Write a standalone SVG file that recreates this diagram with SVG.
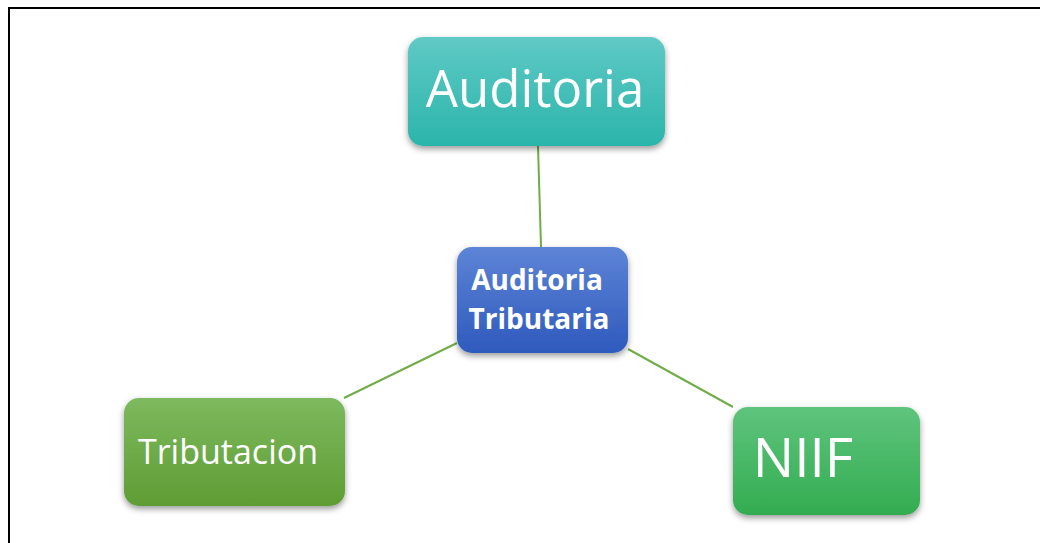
<svg xmlns="http://www.w3.org/2000/svg" width="1040" height="543" viewBox="0 0 1040 543">
<defs>
<linearGradient id="gTeal" x1="0" y1="0" x2="0" y2="1"><stop offset="0" stop-color="#5fc9c5"/><stop offset="1" stop-color="#2bb5ab"/></linearGradient>
<linearGradient id="gBlue" x1="0" y1="0" x2="0" y2="1"><stop offset="0" stop-color="#5d84d6"/><stop offset="1" stop-color="#2e5abd"/></linearGradient>
<linearGradient id="gGreen1" x1="0" y1="0" x2="0" y2="1"><stop offset="0" stop-color="#7db95e"/><stop offset="1" stop-color="#5f9d34"/></linearGradient>
<linearGradient id="gGreen2" x1="0" y1="0" x2="0" y2="1"><stop offset="0" stop-color="#5ec47d"/><stop offset="1" stop-color="#33ac50"/></linearGradient>
<filter id="sh" x="-20%" y="-20%" width="140%" height="150%"><feDropShadow dx="0" dy="3" stdDeviation="3" flood-color="#000" flood-opacity="0.4"/></filter>
</defs>
<style>
.t{fill:#fff;font-family:"Open Sans","Noto Sans",sans-serif;text-anchor:middle}
.b{font-weight:bold}
.c{stroke:#70ad47;stroke-width:2;fill:none}
</style>
<rect width="1040" height="543" fill="#fff"/>
<path d="M9 543 V8 H1040" fill="none" stroke="#000" stroke-width="2"/>
<g id="connectors">
<line class="c" x1="538" y1="146" x2="541" y2="247"/>
<line class="c" x1="457" y1="343" x2="344" y2="398"/>
<line class="c" x1="628" y1="349" x2="733" y2="407"/>
</g>
<g id="node-auditoria">
<rect x="408" y="37" width="257" height="109" rx="15" fill="url(#gTeal)" filter="url(#sh)"/>
<text class="t" x="535" y="107" font-size="51">Auditoria</text>
</g>
<g id="node-auditoria-tributaria">
<rect x="457" y="247" width="171" height="106" rx="15" fill="url(#gBlue)" filter="url(#sh)"/>
<text class="t b" x="537" y="290" font-size="28">Auditoria</text>
<text class="t b" x="539" y="329" font-size="28">Tributaria</text>
</g>
<g id="node-tributacion">
<rect x="124" y="398" width="221" height="108" rx="15" fill="url(#gGreen1)" filter="url(#sh)"/>
<text class="t" x="228" y="464" font-size="34">Tributacion</text>
</g>
<g id="node-niif">
<rect x="733" y="407" width="187" height="108" rx="15" fill="url(#gGreen2)" filter="url(#sh)"/>
<text class="t" x="803" y="477" font-size="55">NIIF</text>
</g>
</svg>
